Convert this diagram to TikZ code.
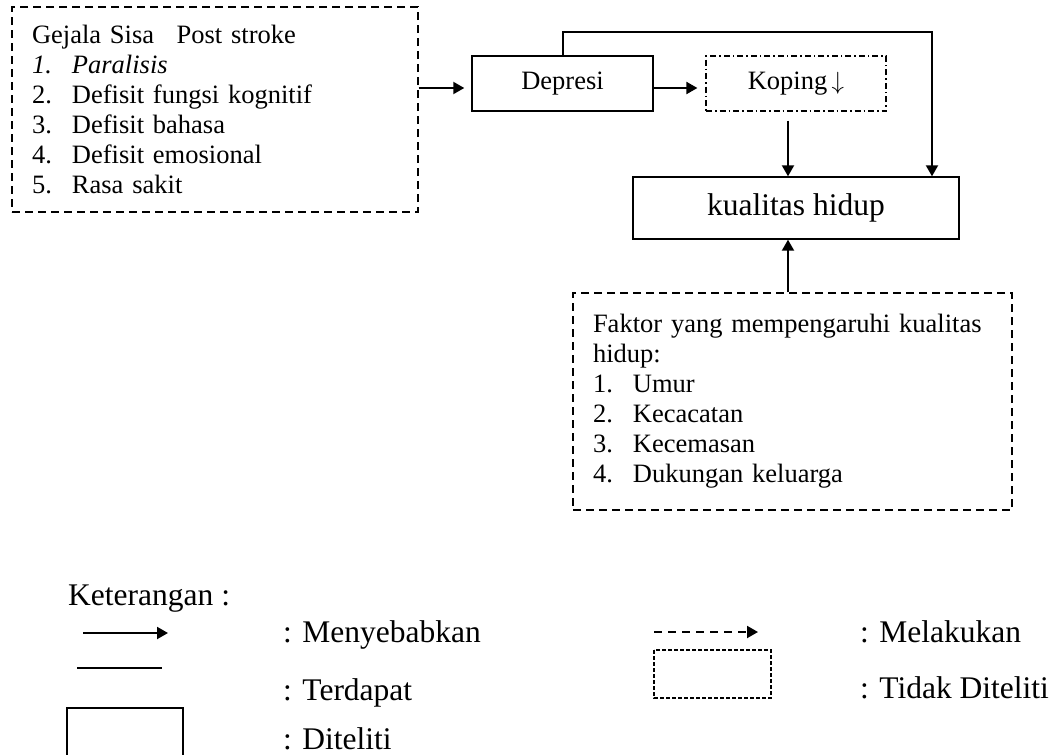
\documentclass[tikz,border=0pt]{standalone}
\usepackage{fontspec}
\setmainfont{Liberation Serif}
\usepackage{tikz}
\usetikzlibrary{arrows.meta}

\begin{document}
\begin{tikzpicture}[x=1pt,y=-1pt,
    kotak/.style={draw, line width=1.4pt, inner sep=0pt, font=\fontsize{26.5}{30}\selectfont},
    kotakputus/.style={kotak, dash pattern=on 8pt off 5pt},
    daftar/.style={kotakputus, inner xsep=20pt, align=left},
    panah/.style={line width=2pt, -{Triangle[length=11pt,width=12pt]}},
    ket/.style={anchor=base west, inner sep=0pt, font=\fontsize{31.5}{34}\selectfont}]
    \useasboundingbox (0,0) rectangle (1053,755);
    % kotak-kotak
    \node[daftar, text width=366pt, minimum height=205pt] (gejala) at (215,109.5)
        {Gejala Sisa\hspace{0.85em}Post stroke\\
         \textit{\makebox[40pt][l]{1.}Paralisis}\\
         \makebox[40pt][l]{2.}Defisit fungsi kognitif\\
         \makebox[40pt][l]{3.}Defisit bahasa\\
         \makebox[40pt][l]{4.}Defisit emosional\\
         \makebox[40pt][l]{5.}Rasa sakit};
    \node[kotak, minimum width=181pt, minimum height=55pt] (depresi) at (562.5,83.5) {Depresi};
    \node[kotak, dash pattern=on 6pt off 3pt on 1.5pt off 3pt, line width=1.2pt,
          minimum width=180pt, minimum height=55pt] (koping) at (796,83.5) {Koping\,$\downarrow$};
    \node[kotak, font=\fontsize{31.5}{34}\selectfont, minimum width=326pt, minimum height=62pt] (kualitas) at (796,208) {kualitas hidup};
    \node[daftar, text width=399pt, minimum height=217pt] (faktor) at (792.5,401.5)
        {Faktor yang mempengaruhi kualitas\\
         hidup:\\
         \makebox[40pt][l]{1.}Umur\\
         \makebox[40pt][l]{2.}Kecacatan\\
         \makebox[40pt][l]{3.}Kecemasan\\
         \makebox[40pt][l]{4.}Dukungan keluarga};
    \coordinate (garis) at (0,88);
    \coordinate (atas) at (0,32);
    % panah
    \draw[panah, shorten >=7pt] (gejala.east |- garis) -- (depresi.west |- garis);
    \draw[panah, shorten >=8pt] (depresi.east |- garis) -- (koping.west |- garis);
    \draw[panah] (depresi.north) |- ([xshift=136pt]kualitas.north |- atas) -- ([xshift=136pt]kualitas.north);
    \draw[panah] ([xshift=-8pt,yshift=-9pt]koping.south) -- ([xshift=-8pt]kualitas.north);
    \draw[panah] ([xshift=-4.5pt]faktor.north) -- ([xshift=-4.5pt]faktor.north |- kualitas.south);
    % keterangan
    \node[ket] (judul) at (68,605) {Keterangan :};
    \coordinate (a1) at (83,633);
    \coordinate (a2) at (168,633);
    \draw[panah] (a1) -- (a2);
    \coordinate (g1) at (77,668);
    \coordinate (g2) at (162,668);
    \draw[line width=1.4pt] (g1) -- (g2);
    \draw[line width=1.4pt] (67,708) rectangle (183,790);
    \node[ket] (k1) at (283,642) {: Menyebabkan};
    \node[ket] (k2) at (283,700) {: Terdapat};
    \node[ket] (k3) at (283,749) {: Diteliti};
    \coordinate (d1) at (654,632);
    \coordinate (d2) at (758,632);
    \draw[panah, dash pattern=on 8pt off 6pt] (d1) -- (d2);
    \draw[line width=1.2pt, dash pattern=on 4pt off 2pt] (654,650) rectangle (771,698);
    \node[ket] (k4) at (860,642) {: Melakukan};
    \node[ket] (k5) at (860,698) {: Tidak Diteliti};
\end{tikzpicture}
\end{document}
